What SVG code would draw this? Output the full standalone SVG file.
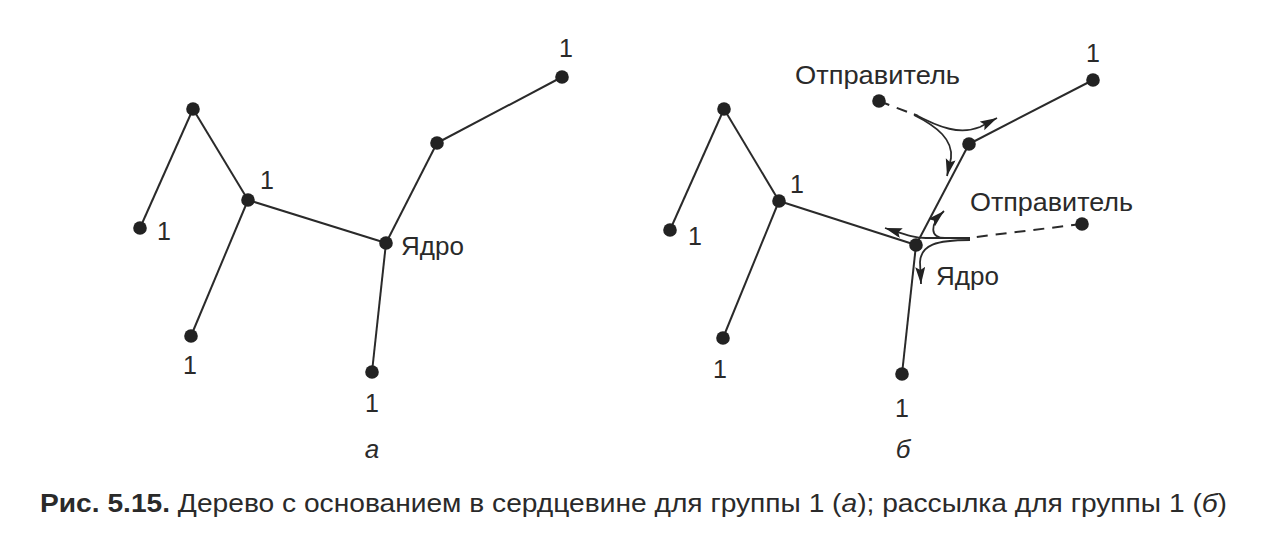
<svg xmlns="http://www.w3.org/2000/svg" width="1280" height="545" viewBox="0 0 1280 545">
<style>
.edge{stroke:#2a2a2a;stroke-width:2;fill:none}
.dash{stroke:#2a2a2a;stroke-width:2;fill:none;stroke-dasharray:11 8}
.flow{stroke:#2a2a2a;stroke-width:1.8;fill:none}
.dot{fill:#222}
text{font-family:"Liberation Sans",Arial,sans-serif;fill:#2a2a2a}
.lbl{font-size:26px}
.num{font-size:25px;text-anchor:middle}
.it{font-style:italic}
</style>
<defs>
<marker id="ah" markerUnits="userSpaceOnUse" markerWidth="20" markerHeight="12" refX="17" refY="5" orient="auto">
<path d="M0,0 L17,5 L0,10 L3,5 z" fill="#222"/>
</marker>
</defs>
<rect width="1280" height="545" fill="#fff"/>

<g id="connectors">
<!-- tree a -->
<line class="edge" x1="193" y1="109" x2="140" y2="228"/>
<line class="edge" x1="193" y1="109" x2="248" y2="200"/>
<line class="edge" x1="248" y1="200" x2="191" y2="336"/>
<line class="edge" x1="248" y1="200" x2="386" y2="243"/>
<line class="edge" x1="386" y1="243" x2="437" y2="143"/>
<line class="edge" x1="437" y1="143" x2="562" y2="77"/>
<line class="edge" x1="386" y1="243" x2="372" y2="372"/>
<!-- tree b -->
<line class="edge" x1="724" y1="109" x2="670" y2="230"/>
<line class="edge" x1="724" y1="109" x2="779" y2="201"/>
<line class="edge" x1="779" y1="201" x2="723" y2="338"/>
<line class="edge" x1="779" y1="201" x2="916" y2="245"/>
<line class="edge" x1="916" y1="245" x2="969" y2="144"/>
<line class="edge" x1="969" y1="144" x2="1093" y2="80"/>
<line class="edge" x1="916" y1="245" x2="902" y2="374"/>
<!-- senders -->
<line class="dash" x1="879" y1="101" x2="918" y2="116"/>
<line class="dash" x1="1082" y1="224" x2="968" y2="238"/>
<!-- multicast flows -->
<path class="flow" d="M914,114 C940,128 960,135 980,127 L997,118" marker-end="url(#ah)"/>
<path class="flow" d="M914,115 C938,127 953,140 951,158 L947,176" marker-end="url(#ah)"/>
<path class="flow" d="M970,238 L926,238 C914,238 904,234 885,228" marker-end="url(#ah)"/>
<path class="flow" d="M945,238 C930,238 929,225 944,211" marker-end="url(#ah)"/>
<path class="flow" d="M970,240 C936,240 921,245 920,262 L921,284" marker-end="url(#ah)"/>
</g>

<g id="node-a-top"><circle class="dot" cx="193" cy="109" r="6.8"/></g>
<g id="node-a-left"><circle class="dot" cx="140" cy="228" r="6.8"/><text class="num" x="164" y="240">1</text></g>
<g id="node-a-mid"><circle class="dot" cx="248" cy="200" r="6.8"/><text class="num" x="267" y="189">1</text></g>
<g id="node-a-bottom"><circle class="dot" cx="191" cy="336" r="6.8"/><text class="num" x="190" y="374">1</text></g>
<g id="node-a-core"><circle class="dot" cx="386" cy="243" r="6.8"/><text class="lbl" x="401" y="255">Ядро</text></g>
<g id="node-a-upper"><circle class="dot" cx="437" cy="143" r="6.8"/></g>
<g id="node-a-topright"><circle class="dot" cx="562" cy="77" r="6.8"/><text class="num" x="566" y="57">1</text></g>
<g id="node-a-corebottom"><circle class="dot" cx="372" cy="372" r="6.8"/><text class="num" x="372" y="412">1</text></g>

<g id="node-b-top"><circle class="dot" cx="724" cy="109" r="6.8"/></g>
<g id="node-b-left"><circle class="dot" cx="670" cy="230" r="6.8"/><text class="num" x="695" y="245">1</text></g>
<g id="node-b-mid"><circle class="dot" cx="779" cy="201" r="6.8"/><text class="num" x="797" y="193">1</text></g>
<g id="node-b-bottom"><circle class="dot" cx="723" cy="338" r="6.8"/><text class="num" x="720" y="378">1</text></g>
<g id="node-b-core"><circle class="dot" cx="916" cy="245" r="6.8"/><text class="lbl" x="936" y="285">Ядро</text></g>
<g id="node-b-upper"><circle class="dot" cx="969" cy="144" r="6.8"/></g>
<g id="node-b-topright"><circle class="dot" cx="1093" cy="80" r="6.8"/><text class="num" x="1093" y="62">1</text></g>
<g id="node-b-corebottom"><circle class="dot" cx="902" cy="374" r="6.8"/><text class="num" x="902" y="417">1</text></g>
<g id="sender-1"><circle class="dot" cx="879" cy="101" r="6.8"/><text class="lbl" x="795" y="84" textLength="165" lengthAdjust="spacingAndGlyphs">Отправитель</text></g>
<g id="sender-2"><circle class="dot" cx="1082" cy="224" r="6.8"/><text class="lbl" x="970" y="211" textLength="163" lengthAdjust="spacingAndGlyphs">Отправитель</text></g>

<text class="lbl it" x="372" y="458" text-anchor="middle">а</text>
<text class="lbl it" x="903" y="458" text-anchor="middle">б</text>

<text x="40" y="512" font-size="25" textLength="1187" lengthAdjust="spacingAndGlyphs"><tspan font-weight="bold">Рис. 5.15.</tspan> Дерево с основанием в сердцевине для группы 1 (<tspan font-style="italic">а</tspan>); рассылка для группы 1 (<tspan font-style="italic">б</tspan>)</text>
</svg>
